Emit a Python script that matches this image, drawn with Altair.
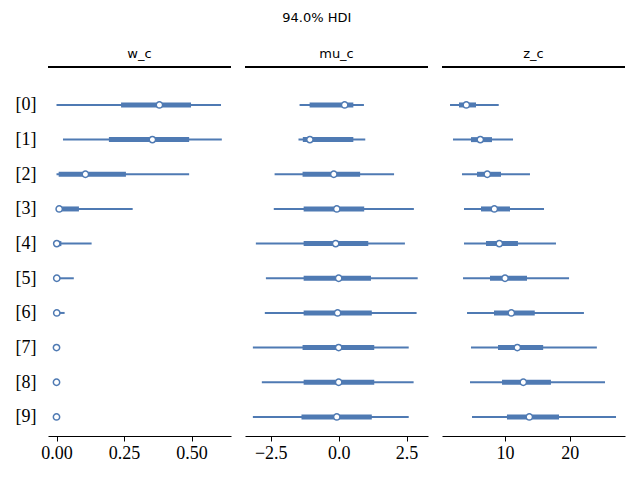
import altair as alt
import pandas as pd

rows = list(range(10))

# w_c
w_hdi_lo = [0.000, 0.024, 0.000, 0.002, 0.000, 0.000, 0.000, 0.000, 0.000, 0.000]
w_hdi_hi = [0.609, 0.612, 0.491, 0.282, 0.130, 0.064, 0.030, 0.006, 0.004, 0.003]
w_q_lo = [0.239, 0.194, 0.008, 0.010, 0.001, 0.000, 0.000, 0.000, 0.000, 0.000]
w_q_hi = [0.498, 0.491, 0.257, 0.083, 0.018, 0.008, 0.004, 0.001, 0.001, 0.001]
w_med = [0.381, 0.355, 0.107, 0.010, 0.001, 0.001, 0.001, 0.000, 0.000, 0.000]

# mu_c
mu_hdi_lo = [-1.44, -1.48, -2.36, -2.39, -3.05, -2.68, -2.72, -3.16, -2.83, -3.16]
mu_hdi_hi = [0.93, 0.98, 2.04, 2.77, 2.44, 2.91, 2.87, 2.58, 2.76, 2.58]
mu_q_lo = [-1.07, -1.32, -1.33, -1.29, -1.29, -1.29, -1.29, -1.33, -1.29, -1.37]
mu_q_hi = [0.54, 0.54, 0.79, 0.94, 1.09, 1.19, 1.22, 1.31, 1.31, 1.22]
mu_med = [0.22, -1.06, -0.18, -0.07, -0.11, 0.00, -0.04, 0.00, 0.00, -0.07]

# z_c
z_hdi_lo = [1.5, 1.96, 3.35, 3.66, 3.66, 3.51, 4.13, 4.74, 4.59, 4.9]
z_hdi_hi = [9.03, 11.24, 13.86, 16.03, 17.88, 19.9, 22.2, 24.2, 25.46, 27.16]
z_q_lo = [2.89, 4.74, 5.67, 6.29, 7.06, 7.68, 8.3, 8.92, 9.54, 10.3]
z_q_hi = [5.52, 7.99, 9.38, 10.77, 12.0, 13.4, 14.6, 15.9, 17.1, 18.35]
z_med = [4.02, 6.18, 7.26, 8.35, 9.12, 10.0, 10.98, 11.9, 12.83, 13.76]

params = ["w_c", "mu_c", "z_c"]
x_domains = {"w_c": [-0.0315, 0.646], "mu_c": [-3.45, 3.29], "z_c": [0.26, 28.55]}
x_ticks = {"w_c": [0.0, 0.25, 0.5], "mu_c": [-2.5, 0.0, 2.5], "z_c": [10, 20]}
x_fmt = {"w_c": ".2f", "mu_c": ".1f", "z_c": "d"}
series = {
    "w_c": (w_hdi_lo, w_hdi_hi, w_q_lo, w_q_hi, w_med),
    "mu_c": (mu_hdi_lo, mu_hdi_hi, mu_q_lo, mu_q_hi, mu_med),
    "z_c": (z_hdi_lo, z_hdi_hi, z_q_lo, z_q_hi, z_med),
}

COLOR = "#4f7ab3"
W, H = 183, 369
SERIF = "Liberation Serif"
SANS = "DejaVu Sans"


def panel(name, first):
    lo, hi, qlo, qhi, med = series[name]
    df = pd.DataFrame({"row": rows, "hdi_lo": lo, "hdi_hi": hi,
                       "q_lo": qlo, "q_hi": qhi, "med": med})
    xscale = alt.Scale(domain=x_domains[name], nice=False, zero=False)
    xaxis = alt.Axis(values=x_ticks[name], format=x_fmt[name], title=None,
                     grid=False, domainColor="black", tickColor="black",
                     tickSize=5, labelFont=SERIF, labelFontSize=18,
                     labelColor="black", labelPadding=3, labelFlush=False)
    yscale = alt.Scale(domain=[-1.095, 9.55], reverse=True, nice=False, zero=False)
    if first:
        yaxis = alt.Axis(values=rows, labelExpr="'[' + datum.value + ']'",
                         title=None, grid=False, domain=False, ticks=False,
                         labelFont=SERIF, labelFontSize=18, labelColor="black",
                         labelPadding=12, minExtent=40, maxExtent=40)
    else:
        yaxis = None
    base = alt.Chart(df)
    thin = base.mark_rule(color=COLOR, strokeWidth=2).encode(
        x=alt.X("hdi_lo:Q", scale=xscale, axis=xaxis),
        x2="hdi_hi:Q",
        y=alt.Y("row:Q", scale=yscale, axis=yaxis),
    )
    thick = base.mark_rule(color=COLOR, strokeWidth=5).encode(
        x="q_lo:Q", x2="q_hi:Q", y="row:Q")
    pts = base.mark_point(filled=True, fill="white", stroke=COLOR,
                          strokeWidth=1.5, size=40, opacity=1).encode(
        x="med:Q", y="row:Q")
    top = alt.Chart(df).mark_rule(color="black", strokeWidth=1).encode(
        x=alt.value(0), x2=alt.value(W), y=alt.value(0))
    return alt.layer(thin, thick, pts, top).properties(
        width=W, height=H,
        title=alt.TitleParams(name, font=SANS, fontSize=13, fontWeight="normal",
                              color="black", offset=6))


chart = alt.hconcat(
    *[panel(p, i == 0) for i, p in enumerate(params)], spacing=12
).properties(
    title=alt.TitleParams("94.0% HDI", font=SANS, fontSize=13,
                          fontWeight="normal", color="black", anchor="middle",
                          offset=23),
    padding={"left": 0, "top": 3, "right": 0, "bottom": 0},
).configure_view(stroke=None)

chart.save("out.html", embed_options={"renderer": "svg", "actions": False})
